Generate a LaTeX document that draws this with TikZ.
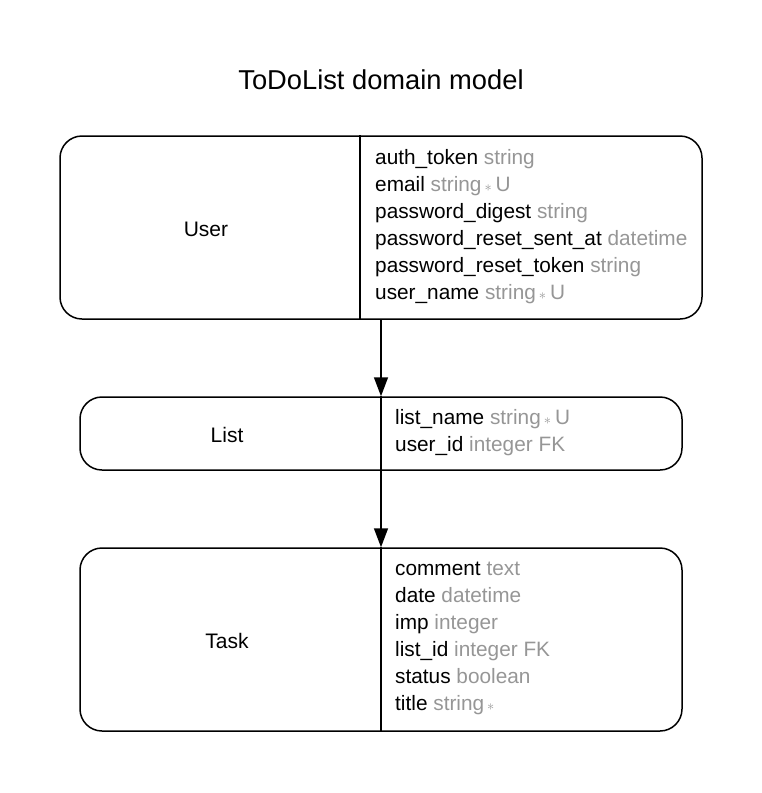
\documentclass[tikz,border=0pt]{standalone}
\usepackage{fontspec}
\setmainfont{Liberation Sans}
\usetikzlibrary{arrows.meta}
\definecolor{typegray}{RGB}{150,150,150}
\newcommand{\req}{\kern3pt$\scriptstyle\ast$\kern4pt}

\begin{document}
\begin{tikzpicture}[x=1pt,y=-1pt,
  entity/.style={draw, line width=1.5pt, rounded corners=22pt, inner sep=0pt},
  field/.style={anchor=base west, inner sep=0pt, font=\fontsize{20.8}{24}\selectfont},
  entname/.style={anchor=base, inner sep=0pt, font=\fontsize{21}{24}\selectfont},
  link/.style={line width=1.5pt, -{Triangle[length=19pt,width=14pt]}}]

\useasboundingbox (0,0) rectangle (762,793);

	\node [anchor=base, inner sep=0pt, font=\fontsize{27.3}{32}\selectfont] (title) at (381,89) {ToDoList domain model};%标题

	\node [entity, minimum width=642pt, minimum height=183pt] (user) at (381,227.5) {};%User
	\node [entity, minimum width=602pt, minimum height=73pt] (list) at (381,433.5) {};%List
	\node [entity, minimum width=602pt, minimum height=183pt] (task) at (381,639.5) {};%Task

	\draw [line width=1.5pt] (user.north -| 360,0)--(user.south -| 360,0);%分隔线
	\draw [line width=1.5pt] (list.north)--(list.south);
	\draw [line width=1.5pt] (task.north)--(task.south);

	\node [entname] (username) at (206,236) {User};
	\node [entname] (listname) at (227,442) {List};
	\node [entname] (taskname) at (227,648) {Task};

	\foreach \n/\t [count=\i from 0] in {auth\_token/string, email/{string\req U},
	  password\_digest/string, password\_reset\_sent\_at/datetime,
	  password\_reset\_token/string, user\_name/{string\req U}}
	\node [field] (ufield\i) at (375,164+27*\i) {\n\ \textcolor{typegray}{\t}};%字段

	\foreach \n/\t [count=\i from 0] in {list\_name/{string\req U}, user\_id/{integer FK}}
	\node [field] (lfield\i) at (395,424+27*\i) {\n\ \textcolor{typegray}{\t}};

	\foreach \n/\t [count=\i from 0] in {comment/text, date/datetime, imp/integer,
	  list\_id/{integer FK}, status/boolean, title/{string\req}}
	\node [field] (tfield\i) at (395,575+27*\i) {\n\ \textcolor{typegray}{\t}};

	\draw [link] (user.south)--(list.north);%箭头
	\draw [link] (list.south)--(task.north);

\end{tikzpicture}
\end{document}
